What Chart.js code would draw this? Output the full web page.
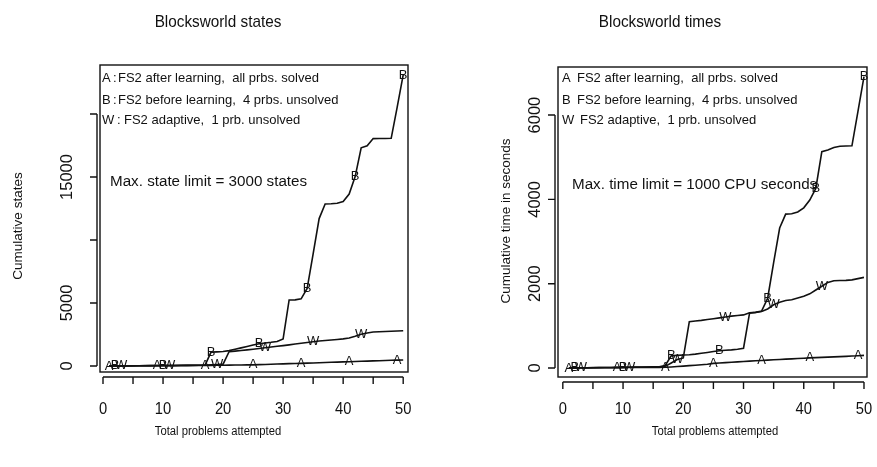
<!DOCTYPE html>
<html>
<head>
<meta charset="utf-8">
<script src="https://cdn.jsdelivr.net/npm/chart.js@4.4.0/dist/chart.umd.min.js"></script>
<style>
  html, body { margin: 0; padding: 0; background: #fff; }
  #wrap { position: relative; width: 877px; height: 467px; }
  canvas { position: absolute; top: 0; }
  #states { left: 0; }
  #times { left: 438px; }
</style>
</head>
<body>
<div id="wrap">
  <canvas id="states" width="438" height="467"></canvas>
  <canvas id="times" width="439" height="467"></canvas>
</div>
<script>
const problems = [1, 2, 3, 4, 5, 6, 7, 8, 9, 10,
  11, 12, 13, 14, 15, 16, 17, 18, 19, 20,
  21, 22, 23, 24, 25, 26, 27, 28, 29, 30,
  31, 32, 33, 34, 35, 36, 37, 38, 39, 40,
  41, 42, 43, 44, 45, 46, 47, 48, 49, 50];

// cumulative states expanded
const statesA = [3, 6, 9, 12, 14, 17, 19, 22, 25, 27,
  30, 32, 35, 37, 40, 43, 46, 52, 58, 63,
  68, 74, 80, 86, 92, 108, 124, 140, 155, 170,
  185, 198, 212, 228, 244, 260, 276, 292, 308, 324,
  340, 356, 372, 388, 404, 420, 436, 452, 470, 480];
const statesB = [4, 8, 12, 15, 19, 23, 27, 30, 34, 38,
  41, 45, 49, 52, 56, 60, 65, 1100, 1120, 1150,
  1220, 1330, 1440, 1550, 1660, 1770, 1830, 1880, 1950, 2150,
  5240, 5250, 5330, 6150, 8900, 11700, 12860, 12880, 12920, 13050,
  13650, 15030, 17320, 17480, 18050, 18060, 18060, 18070, 20550, 23100];
const statesW = [3, 7, 10, 14, 17, 21, 24, 28, 31, 35,
  38, 42, 45, 49, 52, 56, 60, 90, 120, 150,
  1130, 1180, 1230, 1280, 1330, 1390, 1450, 1510, 1570, 1620,
  1680, 1740, 1800, 1860, 1930, 1980, 2020, 2060, 2100, 2150,
  2220, 2360, 2520, 2620, 2700, 2720, 2740, 2760, 2780, 2800];

// cumulative CPU seconds
const timesA = [1, 2, 3, 4, 5, 6, 7, 8, 9, 10,
  11, 12, 13, 14, 15, 16, 18, 26, 36, 46,
  56, 66, 78, 90, 110, 118, 127, 136, 145, 154,
  163, 172, 180, 188, 195, 203, 210, 218, 225, 233,
  240, 246, 252, 258, 265, 271, 277, 284, 290, 300];
const timesB = [2, 4, 5, 7, 9, 11, 12, 14, 16, 18,
  19, 21, 23, 25, 26, 28, 60, 290, 300, 310,
  315, 330, 350, 370, 390, 410, 420, 430, 445, 470,
  1300, 1320, 1350, 1650, 2500, 3320, 3650, 3660, 3700, 3800,
  3985, 4260, 5130, 5170, 5230, 5260, 5265, 5270, 6090, 6910];
const timesW = [2, 3, 5, 6, 8, 9, 11, 12, 14, 15,
  17, 18, 20, 21, 23, 24, 40, 120, 200, 240,
  1100, 1115, 1130, 1150, 1170, 1190, 1210, 1230, 1245, 1260,
  1310, 1320, 1340, 1400, 1500, 1560, 1600, 1620, 1660, 1700,
  1760, 1850, 1940, 2030, 2070, 2075, 2080, 2090, 2120, 2150];

// problems where each curve gets its letter
const marksA = [1, 9, 17, 25, 33, 41, 49];
const marksB = [2, 10, 18, 26, 34, 42, 50];
const marksW = [3, 11, 19, 27, 35, 43];

const xTicks = [0, 5, 10, 15, 20, 25, 30, 35, 40, 45, 50];
const xTickLabels = ['0', '', '10', '', '20', '', '30', '', '40', '', '50'];
const statesTicks = [0, 5000, 10000, 15000, 20000];
const statesTickLabels = ['0', '5000', '', '15000', ''];
const timesTicks = [0, 2000, 4000, 6000];
const timesTickLabels = ['0', '2000', '4000', '6000'];

const FONT = '"Liberation Sans", Arial, Helvetica, sans-serif';
const INK = '#111';
const UP = -Math.PI / 2;

function text(ctx, str, x, y, size, opt = {}) {
  ctx.save();
  ctx.translate(x, y);
  if (opt.rotate) ctx.rotate(opt.rotate);
  ctx.scale(opt.squeeze || 1, 1);
  ctx.font = size + 'px ' + FONT;
  ctx.fillStyle = INK;
  ctx.textAlign = opt.align || 'center';
  ctx.textBaseline = 'middle';
  ctx.fillText(str, 0, 0);
  ctx.restore();
}

const rPlot = {
  id: 'rPlot',
  afterDatasetsDraw(chart) {
    const ctx = chart.ctx;
    chart.data.datasets.forEach((ds, i) => {
      const meta = chart.getDatasetMeta(i);
      ds.marks.forEach(p => {
        const pt = meta.data[p - 1];
        text(ctx, ds.letter, pt.x, pt.y, 13);
      });
    });
  },
  afterDraw(chart, args, o) {
    const { ctx, chartArea: a, scales: { x, y } } = chart;
    ctx.save();
    ctx.strokeStyle = INK;
    ctx.lineWidth = 1.4;
    ctx.strokeRect(a.left, a.top, a.right - a.left, a.bottom - a.top);

    // x axis sits a little below the frame
    const xb = a.bottom + 5;
    ctx.beginPath();
    ctx.moveTo(x.getPixelForValue(o.xTicks[0]), xb);
    ctx.lineTo(x.getPixelForValue(o.xTicks[o.xTicks.length - 1]), xb);
    o.xTicks.forEach(v => {
      const px = x.getPixelForValue(v);
      ctx.moveTo(px, xb);
      ctx.lineTo(px, xb + 7);
    });
    // y axis just left of the frame
    const yl = a.left - 3;
    ctx.moveTo(yl, y.getPixelForValue(o.yTicks[0]));
    ctx.lineTo(yl, y.getPixelForValue(o.yTicks[o.yTicks.length - 1]));
    o.yTicks.forEach(v => {
      const py = y.getPixelForValue(v);
      ctx.moveTo(yl, py);
      ctx.lineTo(yl - 7, py);
    });
    ctx.stroke();
    ctx.restore();

    o.xTicks.forEach((v, i) => {
      if (o.xTickLabels[i]) text(ctx, o.xTickLabels[i], x.getPixelForValue(v), 410, 16, { squeeze: 0.92 });
    });
    o.yTicks.forEach((v, i) => {
      if (o.yTickLabels[i]) text(ctx, o.yTickLabels[i], o.yLabelX, y.getPixelForValue(v), 16.5, { rotate: UP });
    });

    text(ctx, o.title, o.titleX, 22, 17, { squeeze: 0.9 });
    text(ctx, 'Total problems attempted', o.xTitleX, 432, 12.5, { squeeze: 0.9 });
    text(ctx, o.yTitle, o.yTitleX, o.yTitleY, 13.5, { rotate: UP });

    o.legend.forEach((row, i) => {
      const ly = o.legendY[i];
      row.forEach((part, k) => {
        if (part) text(ctx, part, o.legendX[i][k], ly, 13, { align: 'left' });
      });
    });
    text(ctx, o.note, o.noteX, o.noteY, 15.2, { align: 'left' });
  }
};

function draw(id, series, scaleX, scaleY, labels) {
  const letters = ['A', 'B', 'W'];
  const marks = [marksA, marksB, marksW];
  return new Chart(document.getElementById(id), {
    type: 'line',
    data: {
      datasets: series.map((vals, i) => ({
        data: problems.map((p, j) => ({ x: p, y: vals[j] })),
        letter: letters[i],
        marks: marks[i],
        borderColor: INK,
        borderWidth: 1.6,
        pointRadius: 0,
        tension: 0,
        fill: false
      }))
    },
    options: {
      responsive: false,
      animation: false,
      events: [],
      layout: { padding: labels.padding },
      scales: {
        x: { type: 'linear', min: scaleX[0], max: scaleX[1], display: false },
        y: { type: 'linear', min: scaleY[0], max: scaleY[1], display: false }
      },
      plugins: {
        legend: { display: false },
        tooltip: { enabled: false },
        rPlot: labels
      }
    },
    plugins: [rPlot]
  });
}

draw('states', [statesA, statesB, statesW], [-0.5, 50.8], [-476, 23890], {
  padding: { left: 100, right: 30, top: 65, bottom: 95 },
  title: 'Blocksworld states',
  titleX: 218,
  xTitleX: 218,
  yTitle: 'Cumulative states',
  yTitleX: 18,
  yTitleY: 226,
  yLabelX: 67,
  xTicks, xTickLabels,
  yTicks: statesTicks, yTickLabels: statesTickLabels,
  legend: [
    ['A', ':', 'FS2 after learning,  all prbs. solved'],
    ['B', ':', 'FS2 before learning,  4 prbs. unsolved'],
    ['W', ':', 'FS2 adaptive,  1 prb. unsolved']
  ],
  legendX: [[102, 113, 118], [102, 113, 118], [102, 117, 124]],
  legendY: [78, 100, 120],
  note: 'Max. state limit = 3000 states',
  noteX: 110,
  noteY: 182
});

draw('times', [timesA, timesB, timesW], [-0.8, 50.5], [-213, 7140], {
  padding: { left: 120, right: 10, top: 67, bottom: 90 },
  title: 'Blocksworld times',
  titleX: 222,
  xTitleX: 277,
  yTitle: 'Cumulative time in seconds',
  yTitleX: 68,
  yTitleY: 221,
  yLabelX: 97,
  xTicks, xTickLabels,
  yTicks: timesTicks, yTickLabels: timesTickLabels,
  legend: [
    ['A', '', 'FS2 after learning,  all prbs. solved'],
    ['B', '', 'FS2 before learning,  4 prbs. unsolved'],
    ['W', '', 'FS2 adaptive,  1 prb. unsolved']
  ],
  legendX: [[124, 0, 139], [124, 0, 139], [124, 0, 142]],
  legendY: [78, 100, 120],
  note: 'Max. time limit = 1000 CPU seconds',
  noteX: 134,
  noteY: 185
});
</script>
</body>
</html>
